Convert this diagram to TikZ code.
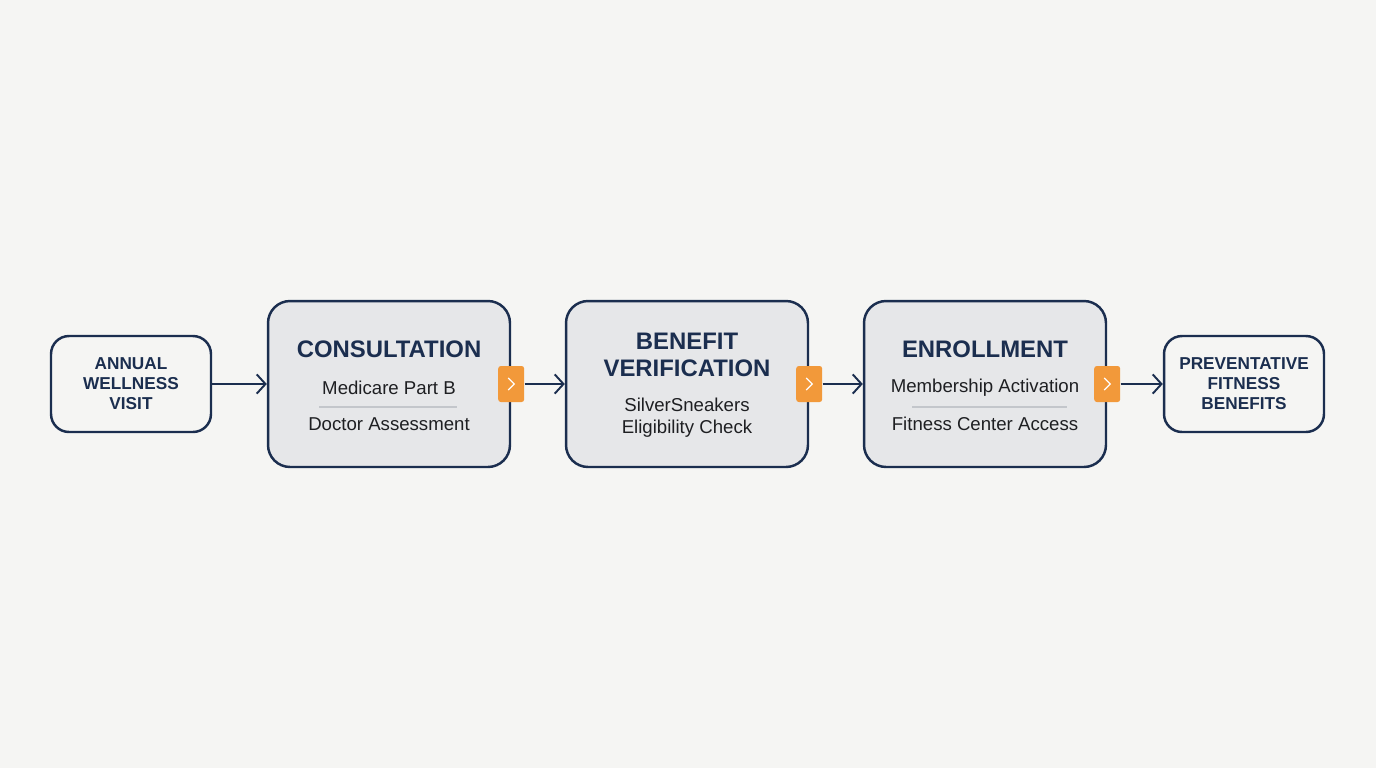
\documentclass[tikz,border=0pt]{standalone}
\usepackage{fontspec}
\setmainfont{Liberation Sans}
\usetikzlibrary{arrows.meta,positioning}
\usetikzlibrary{backgrounds}

\definecolor{navy}{HTML}{1B2E4F}
\definecolor{boxfill}{HTML}{E6E7E9}
\definecolor{paper}{HTML}{F5F5F3}
\definecolor{tabcol}{HTML}{F2993A}
\definecolor{sepcol}{HTML}{C3C6CB}
\definecolor{ink}{HTML}{1E1F22}

\begin{document}
\begin{tikzpicture}[x=0.02cm,y=-0.02cm]
    \tikzstyle{endbox}=[draw=navy,line width=1.4pt,fill=paper,rounded corners=0.36cm,minimum width=3.2cm,minimum height=1.92cm,inner sep=0pt]
    \tikzstyle{stepbox}=[draw=navy,line width=1.4pt,fill=boxfill,rounded corners=0.44cm,minimum width=4.84cm,minimum height=3.32cm,inner sep=0pt]
    \tikzstyle{tab}=[fill=tabcol,rounded corners=1.5pt,minimum width=0.52cm,minimum height=0.72cm,inner sep=0pt]
    \tikzstyle{chevron}=[white,line width=0.7pt]
    \tikzstyle{arrow}=[-{Straight Barb[length=5pt,width=11pt]},navy,line width=1.1pt]
    \tikzstyle{title}=[text=navy,font=\fontsize{13.6}{15.3}\selectfont\bfseries,align=center,inner sep=0pt]
    \tikzstyle{small}=[text=navy,font=\fontsize{9.8}{11.4}\selectfont\bfseries,align=center,inner sep=0pt]
    \tikzstyle{sub}=[text=ink,font=\fontsize{10.6}{12.5}\selectfont,align=center,inner sep=0pt]
    \tikzstyle{sep}=[sepcol,line width=0.6pt]

% Fond
\fill[paper] (0,0) rectangle (1376,768);
\useasboundingbox (0,0) rectangle (1376,768);

% Boites
\node[endbox] (start) at (131,384) {};
\node[stepbox] (cons) at (389,384) {};
\node[stepbox] (benef) at (687,384) {};
\node[stepbox] (enrol) at (985,384) {};
\node[endbox] (goal) at (1244,384) {};

% Textes
\node[small] (start-txt) at (131,384) {ANNUAL\\WELLNESS\\VISIT};
\node[title] (cons-title) at (389,349) {CONSULTATION};
\node[sub] (cons-a) at (389,388) {Medicare Part B};
\node[sub] (cons-b) at (389,424) {Doctor Assessment};
\node[title] (benef-title) at (687,355) {BENEFIT\\VERIFICATION};
\node[sub] (benef-a) at (687,418) {SilverSneakers\\Eligibility Check};
\node[title] (enrol-title) at (985,349) {ENROLLMENT};
\node[sub] (enrol-a) at (985,388) {Membership Activation};
\node[sub] (enrol-b) at (985,424) {Fitness Center Access};
\node[small] (goal-txt) at (1244,384) {PREVENTATIVE\\FITNESS\\BENEFITS};

% Separateurs
\draw[sep] (319,407) -- (457,407);
\draw[sep] (912,407) -- (1067,407);

% Onglets
\node[tab] (tab-1) at (cons.east) {};
\node[tab] (tab-2) at (benef.east) {};
\node[tab] (tab-3) at (enrol.east) {};
\foreach \t in {1,2,3}
  \draw[chevron] (tab-\t.center) ++(-3,-6) -- ++(6,6) -- ++(-6,6);

% Fleches
\draw[arrow] (start) -- (cons);
\draw[arrow] (tab-1) -- (benef);
\draw[arrow] (tab-2) -- (enrol);
\draw[arrow] (tab-3) -- (goal);

\end{tikzpicture}
\end{document}
